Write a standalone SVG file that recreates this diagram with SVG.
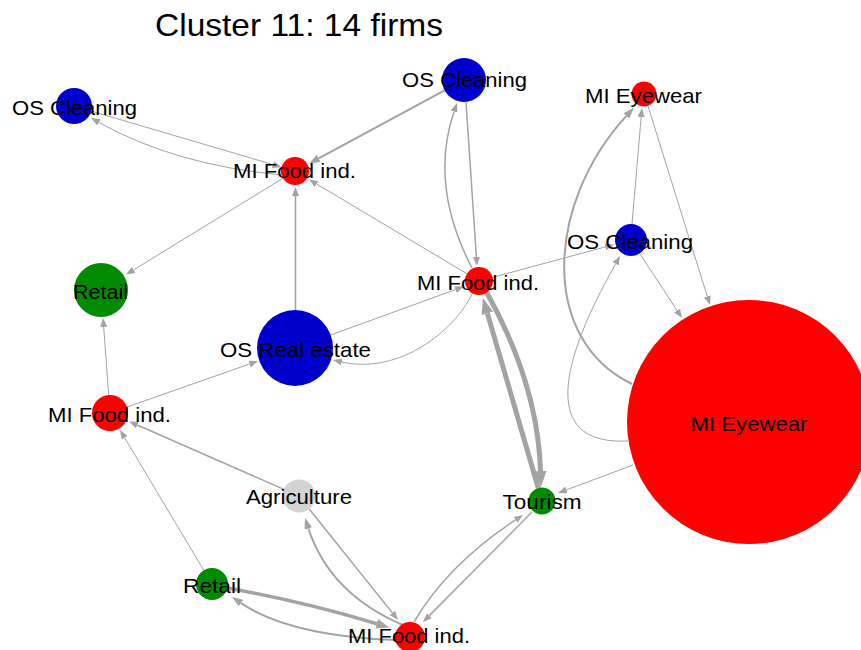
<svg xmlns="http://www.w3.org/2000/svg" width="861" height="650" viewBox="0 0 861 650">
<style>
text{font-family:"Liberation Sans",Arial,sans-serif;fill:#000;}
.lbl{font-size:21px;text-anchor:middle;}
.title{font-size:32px;text-anchor:middle;}
.e{fill:none;stroke:#a3a3a3;stroke-width:1;}
.e15{fill:none;stroke:#a3a3a3;stroke-width:1.5;}
.e2{fill:none;stroke:#a3a3a3;stroke-width:2;}
.e3{fill:none;stroke:#a3a3a3;stroke-width:3.5;}
.e5{fill:none;stroke:#a3a3a3;stroke-width:5;}
.red{fill:#ff0000;}
.blue{fill:#0000cd;}
.green{fill:#008b00;}
.grey{fill:#d3d3d3;}
</style>
<defs>
<marker id="as" markerUnits="userSpaceOnUse" markerWidth="9" markerHeight="7" refX="0" refY="3.5" orient="auto"><path d="M0,0 L9,3.5 L0,7 z" fill="#a3a3a3"/></marker>
<marker id="am" markerUnits="userSpaceOnUse" markerWidth="11" markerHeight="8" refX="0" refY="4" orient="auto"><path d="M0,0 L11,4 L0,8 z" fill="#a3a3a3"/></marker>
<marker id="al" markerUnits="userSpaceOnUse" markerWidth="16" markerHeight="12" refX="0" refY="6" orient="auto"><path d="M0,0 L16,6 L0,12 z" fill="#a3a3a3"/></marker>
<marker id="a3" markerUnits="userSpaceOnUse" markerWidth="13" markerHeight="10" refX="0" refY="5" orient="auto"><path d="M0,0 L13,5 L0,10 z" fill="#a3a3a3"/></marker>
</defs>
<text class="title" x="299" y="36" textLength="288" lengthAdjust="spacingAndGlyphs">Cluster 11: 14 firms</text>
<g id="edges">
<path class="e" d="M91.3,111.1 L273,164.6" marker-end="url(#as)"/>
<path class="e" d="M282,175 Q175,165 98.9,122.4" marker-end="url(#as)"/>
<path class="e2" d="M444.6,90.4 L318.7,158.3" marker-end="url(#am)"/>
<path class="e" d="M467,273.8 L316.7,184" marker-end="url(#as)"/>
<path class="e15" d="M295.5,310 L295.5,196" marker-end="url(#as)"/>
<path class="e" d="M283,178.3 L133.7,269.8" marker-end="url(#as)"/>
<path class="e15" d="M472,268 Q429,185 454.1,111.5" marker-end="url(#as)"/>
<path class="e15" d="M466,102 L476.4,257" marker-end="url(#as)"/>
<path class="e" d="M492.5,277.4 L605.3,246.9" marker-end="url(#as)"/>
<path class="e" d="M330.7,335 L455.5,289.6" marker-end="url(#as)"/>
<path class="e" d="M472,294 C455,330 400,375 341.8,362" marker-end="url(#as)"/>
<path class="e5" d="M538.3,488 L487.4,313.4" marker-end="url(#al)"/>
<path class="e5" d="M487,293 Q538,385 540.5,471" marker-end="url(#al)"/>
<path class="e" d="M108.7,395 L103.7,327" marker-end="url(#as)"/>
<path class="e" d="M127,407 L249.5,364" marker-end="url(#as)"/>
<path class="e15" d="M283.9,489.4 L137.3,425" marker-end="url(#as)"/>
<path class="e" d="M203.8,570.3 L124.6,437.7" marker-end="url(#as)"/>
<path class="e15" d="M309.2,509 L392.4,612.9" marker-end="url(#as)"/>
<path class="e2" d="M403,625 Q330,594 308.4,528.5" marker-end="url(#am)"/>
<path class="e3" d="M227.5,588 Q305,602 376.7,623.7" marker-end="url(#a3)"/>
<path class="e2" d="M396,640 Q290,636 241.1,603.1" marker-end="url(#am)"/>
<path class="e15" d="M414,622 Q447.8,564.4 515.5,519.9" marker-end="url(#as)"/>
<path class="e15" d="M532,512 L429.3,615.6" marker-end="url(#as)"/>
<path class="e" d="M633,465 L566.4,489.9" marker-end="url(#as)"/>
<path class="e2" d="M632,384 C540,340 545,205 626.4,115.9" marker-end="url(#am)"/>
<path class="e" d="M632,224 L641.2,117" marker-end="url(#as)"/>
<path class="e" d="M648,106 L707.3,296.4" marker-end="url(#as)"/>
<path class="e" d="M640,254 L677.1,310.5" marker-end="url(#as)"/>
<path class="e" d="M628,441 C550,445 550,380 615.6,263.8" marker-end="url(#as)"/>
</g>
<g id="n-mie-big"><circle class="red" cx="749" cy="422" r="122"/><text class="lbl" x="749" y="431" textLength="117" lengthAdjust="spacingAndGlyphs">MI Eyewear</text></g>
<g id="n-osc-tl"><circle class="blue" cx="74" cy="106" r="18"/><text class="lbl" x="74.5" y="115" textLength="125" lengthAdjust="spacingAndGlyphs">OS Cleaning</text></g>
<g id="n-mif-top"><circle class="red" cx="295" cy="171" r="14"/><text class="lbl" x="294.5" y="178" textLength="123" lengthAdjust="spacingAndGlyphs">MI Food ind.</text></g>
<g id="n-osc-tc"><circle class="blue" cx="464" cy="80" r="22"/><text class="lbl" x="464.5" y="87" textLength="125" lengthAdjust="spacingAndGlyphs">OS Cleaning</text></g>
<g id="n-mie-top"><circle class="red" cx="644" cy="94" r="12.5"/><text class="lbl" x="643.5" y="103" textLength="117" lengthAdjust="spacingAndGlyphs">MI Eyewear</text></g>
<g id="n-osc-r"><circle class="blue" cx="631" cy="240" r="16"/><text class="lbl" x="630" y="249" textLength="126" lengthAdjust="spacingAndGlyphs">OS Cleaning</text></g>
<g id="n-mif-c"><circle class="red" cx="479" cy="281" r="14"/><text class="lbl" x="478" y="290" textLength="122" lengthAdjust="spacingAndGlyphs">MI Food ind.</text></g>
<g id="n-retail-l"><circle class="green" cx="101" cy="290" r="27"/><text class="lbl" x="100.5" y="299" textLength="55" lengthAdjust="spacingAndGlyphs">Retail</text></g>
<g id="n-osre"><circle class="blue" cx="295" cy="348" r="38"/><text class="lbl" x="295.5" y="357" textLength="151" lengthAdjust="spacingAndGlyphs">OS Real estate</text></g>
<g id="n-mif-l"><circle class="red" cx="110" cy="413" r="18"/><text class="lbl" x="109.5" y="422" textLength="123" lengthAdjust="spacingAndGlyphs">MI Food ind.</text></g>
<g id="n-agri"><circle class="grey" cx="299" cy="496" r="16.5"/><text class="lbl" x="299" y="504" textLength="106" lengthAdjust="spacingAndGlyphs">Agriculture</text></g>
<g id="n-tourism"><circle class="green" cx="542" cy="501" r="13.5"/><text class="lbl" x="542" y="509" textLength="79" lengthAdjust="spacingAndGlyphs">Tourism</text></g>
<g id="n-retail-b"><circle class="green" cx="212" cy="584" r="16"/><text class="lbl" x="212" y="593" textLength="58" lengthAdjust="spacingAndGlyphs">Retail</text></g>
<g id="n-mif-b"><circle class="red" cx="410" cy="637" r="15"/><text class="lbl" x="409" y="643" textLength="122" lengthAdjust="spacingAndGlyphs">MI Food ind.</text></g>
</svg>
